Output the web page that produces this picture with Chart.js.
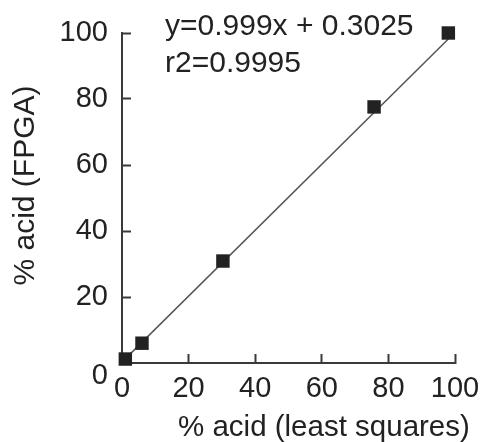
<!DOCTYPE html>
<html>
<head>
<meta charset="utf-8">
<script src="https://cdn.jsdelivr.net/npm/chart.js@4.4.1/dist/chart.umd.min.js"></script>
<style>
    body { margin: 0; background: #fff; }
    #fitChart { display: block; }
</style>
</head>
<body>
<canvas id="fitChart" width="484" height="442"></canvas>
<script>
// Measured points: % acid by least squares (x) vs % acid by FPGA (y)
const leastSquaresValues = [1, 6, 30.3, 75.7, 98];
const fpgaValues = [1.2, 6, 30.9, 77.6, 100];

// Ends of the fitted line, as drawn in the figure
const fitLineX = [0.5, 98];
const fitLineY = [0.8, 98.2];

// Tick labels on both axes
const tickValues = [0, 20, 40, 60, 80, 100];

const equationLines = ['y=0.999x + 0.3025', 'r2=0.9995'];
const xAxisTitle = '% acid (least squares)';
const yAxisTitle = '% acid (FPGA)';

const inkColor = '#222222';
const axisColor = '#3a3a3a';
const fontFamily = '"Liberation Sans", Arial, Helvetica, sans-serif';

// Draws the regression equation and the x axis caption (which sits right of centre)
const captionPlugin = {
    id: 'captions',
    afterDraw(chart) {
        const ctx = chart.ctx;
        ctx.save();
        ctx.fillStyle = inkColor;
        ctx.textAlign = 'left';
        ctx.textBaseline = 'alphabetic';
        ctx.font = '30px ' + fontFamily;
        equationLines.forEach((line, i) => {
            ctx.fillText(line, 165, 35 + i * 37);
        });
        ctx.font = '29.5px ' + fontFamily;
        ctx.fillText(xAxisTitle, 178, 436);
        ctx.restore();
    }
};

// Tick box paddings are handled by layout.padding instead
function fixScaleSize(scale, size) {
    if (scale.isHorizontal()) {
        scale.height = size;
    } else {
        scale.width = size;
    }
    scale.paddingTop = 0;
    scale.paddingBottom = 0;
    scale.paddingLeft = 0;
    scale.paddingRight = 0;
}

const ctx = document.getElementById('fitChart').getContext('2d');
const fitChart = new Chart(ctx, {
    type: 'scatter',
    data: {
        datasets: [{
            label: 'FPGA vs least squares',
            data: leastSquaresValues.map((x, i) => ({ x: x, y: fpgaValues[i] })),
            pointStyle: 'rect',
            pointRadius: 9.5,
            pointHoverRadius: 9.5,
            backgroundColor: inkColor,
            borderColor: inkColor,
            borderWidth: 0,
            clip: false,
            order: 1
        }, {
            label: 'Linear fit',
            data: fitLineX.map((x, i) => ({ x: x, y: fitLineY[i] })),
            showLine: true,
            borderColor: '#555555',
            borderWidth: 1.5,
            pointRadius: 0,
            clip: false,
            order: 2
        }]
    },
    options: {
        responsive: false,
        animation: false,
        layout: {
            padding: { top: 33, right: 29, left: 0, bottom: 0 }
        },
        plugins: {
            legend: { display: false },
            tooltip: { enabled: false }
        },
        scales: {
            x: {
                type: 'linear',
                min: 0,
                max: 100,
                afterFit(scale) { fixScaleSize(scale, 79); },
                afterBuildTicks(scale) { scale.ticks = tickValues.map(v => ({ value: v })); },
                border: { display: true, color: axisColor, width: 2 },
                grid: {
                    drawOnChartArea: false,
                    drawTicks: true,
                    tickLength: -9,
                    tickColor: axisColor,
                    tickWidth: 2
                },
                ticks: {
                    padding: 18,
                    color: inkColor,
                    font: { size: 29, family: fontFamily },
                    maxRotation: 0
                }
            },
            y: {
                type: 'linear',
                min: 0,
                max: 100,
                afterFit(scale) { fixScaleSize(scale, 122); },
                afterBuildTicks(scale) { scale.ticks = tickValues.map(v => ({ value: v })); },
                border: { display: true, color: axisColor, width: 2 },
                grid: {
                    drawOnChartArea: false,
                    drawTicks: true,
                    tickLength: -9,
                    tickColor: axisColor,
                    tickWidth: 2
                },
                ticks: {
                    padding: 23,
                    color: inkColor,
                    // the zero label sits a little below its tick in the original
                    callback: (value) => value === 0 ? ['', '0'] : String(value),
                    font: (c) => ({
                        size: 29,
                        family: fontFamily,
                        lineHeight: c.tick && c.tick.value === 0 ? 0.9 : 1.2
                    })
                },
                title: {
                    display: true,
                    text: '   ' + yAxisTitle,
                    color: inkColor,
                    font: { size: 30, family: fontFamily },
                    padding: { top: 8, bottom: 0 }
                }
            }
        }
    },
    plugins: [captionPlugin]
});
</script>
</body>
</html>
